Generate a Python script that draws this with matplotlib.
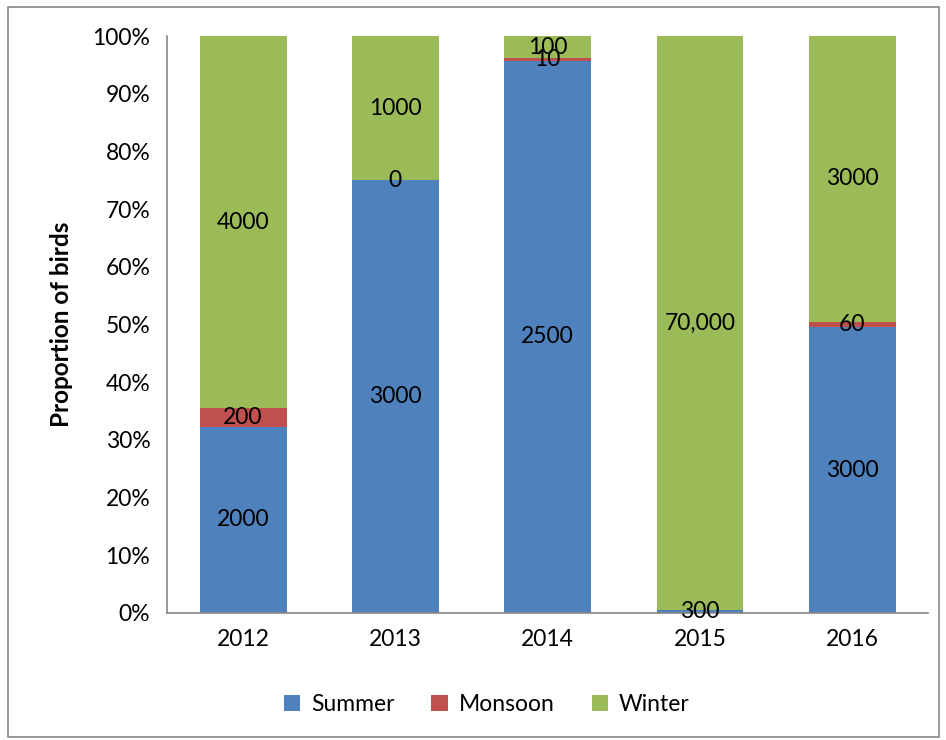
import numpy as np
import matplotlib.pyplot as plt
from matplotlib.patches import Rectangle
import matplotlib.ticker as mtick

plt.rc('font', family=['Lato', 'DejaVu Sans'], size=16.5)

years = ['2012', '2013', '2014', '2015', '2016']
summer = [2000, 3000, 2500, 300, 3000]
monsoon = [200, 0, 10, 0, 60]
winter = [4000, 1000, 100, 70000, 3000]
summer_lbl = ['2000', '3000', '2500', '300', '3000']
monsoon_lbl = ['200', '0', '10', '', '60']
winter_lbl = ['4000', '1000', '100', '70,000', '3000']

colors = ['#4F81BD', '#C0504D', '#9BBB59']
names = ['Summer', 'Monsoon', 'Winter']

vals = np.array([summer, monsoon, winter], dtype=float)
share = vals / vals.sum(axis=0)
labels = [summer_lbl, monsoon_lbl, winter_lbl]

fig = plt.figure(figsize=(9.46, 7.4), dpi=100)
ax = fig.add_axes([0.1765, 0.172, 0.805, 0.779])

x = np.arange(len(years))
bottom = np.zeros(len(years))
for k in range(3):
    ax.bar(x, share[k], 0.57, bottom=bottom, color=colors[k], label=names[k], zorder=2)
    for i in range(len(years)):
        ax.text(x[i], bottom[i] + share[k][i] / 2, labels[k][i],
                ha='center', va='center', fontsize=16.5, color='black', zorder=3)
    bottom += share[k]

ax.set_xlim(-0.5, len(years) - 0.5)
ax.set_ylim(0, 1)
ax.set_xticks(x)
ax.set_xticklabels(years)
ax.set_yticks(np.arange(0, 1.01, 0.1))
ax.yaxis.set_major_formatter(mtick.PercentFormatter(1.0, decimals=0))
ax.tick_params(length=0, pad=12)
ax.set_ylabel('Proportion of birds', fontweight='bold', fontsize=17.5, labelpad=14)
for s in ['top', 'right']:
    ax.spines[s].set_visible(False)
for s in ['left', 'bottom']:
    ax.spines[s].set_color('#888888')
    ax.spines[s].set_linewidth(1.2)

ax.legend(loc='center', bbox_to_anchor=(0.42, -0.16), ncol=3, frameon=False,
          handlelength=0.7, handleheight=0.7, columnspacing=1.6, handletextpad=0.5)

fig.patches.append(Rectangle((0.0085, 0.004), 0.984, 0.986, transform=fig.transFigure,
                             fill=False, edgecolor='#888888', linewidth=1.2))

plt.savefig('out.png', dpi=100)
